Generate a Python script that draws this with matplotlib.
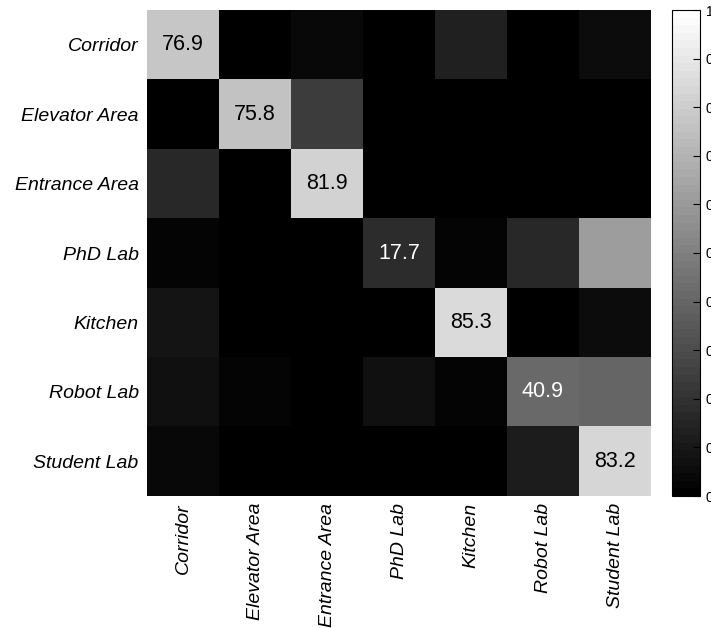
import numpy as np
import matplotlib
matplotlib.use("Agg")
import matplotlib.pyplot as plt

# Place categories (rows: true class, columns: predicted class)
classes = ["Corridor", "Elevator Area", "Entrance Area", "PhD Lab",
           "Kitchen", "Robot Lab", "Student Lab"]

# Row-normalised confusion values, one list per true class
corridor = [0.769, 0.000, 0.040, 0.000, 0.135, 0.000, 0.056]
elevator = [0.000, 0.758, 0.242, 0.000, 0.000, 0.000, 0.000]
entrance = [0.170, 0.000, 0.819, 0.000, 0.000, 0.000, 0.011]
phd_lab = [0.020, 0.000, 0.000, 0.177, 0.020, 0.165, 0.618]
kitchen = [0.090, 0.000, 0.000, 0.000, 0.853, 0.000, 0.057]
robot_lab = [0.075, 0.025, 0.000, 0.070, 0.021, 0.409, 0.400]
student_lab = [0.045, 0.000, 0.000, 0.000, 0.000, 0.123, 0.832]

# Colour bar tick values
cbar_ticks = [0.0, 0.1, 0.2, 0.3, 0.4, 0.5, 0.6, 0.7, 0.8, 0.9, 1.0]

matrix = np.array([corridor, elevator, entrance, phd_lab,
                   kitchen, robot_lab, student_lab])

plt.rcParams["font.family"] = ["Liberation Sans", "DejaVu Sans"]

W, H = 711, 628
fig = plt.figure(figsize=(W / 100, H / 100), dpi=100)

ax = fig.add_axes([147 / W, 1 - 496 / H, 504 / W, 486 / H])
cmap = plt.get_cmap("gray", 64)
im = ax.imshow(matrix, cmap=cmap, vmin=0, vmax=1, aspect="auto",
               interpolation="nearest")

n = len(classes)
ax.set_xticks(range(n))
ax.set_yticks(range(n))
ax.set_xticklabels(classes, rotation=90, fontstyle="italic", fontsize=14)
ax.set_yticklabels(classes, fontstyle="italic", fontsize=14)
ax.tick_params(axis="x", length=0, pad=5)
ax.tick_params(axis="y", length=0, pad=6)
for s in ax.spines.values():
    s.set_visible(False)

# Diagonal accuracies in percent
for i in range(n):
    v = matrix[i, i]
    ax.text(i, i, f"{v * 100:.1f}", ha="center", va="center", fontsize=15.5,
            color="white" if v < 0.5 else "black")

cax = fig.add_axes([672 / W, 1 - 496 / H, 28 / W, 486 / H])
cb = fig.colorbar(im, cax=cax, ticks=cbar_ticks)
cb.ax.set_yticklabels([f"{t:g}" for t in cbar_ticks])
cb.ax.tick_params(axis="y", direction="in", length=5, width=0.8,
                  labelsize=10, pad=4, right=True, left=False)
cb.outline.set_linewidth(0.8)

fig.savefig("out.png", dpi=100)
